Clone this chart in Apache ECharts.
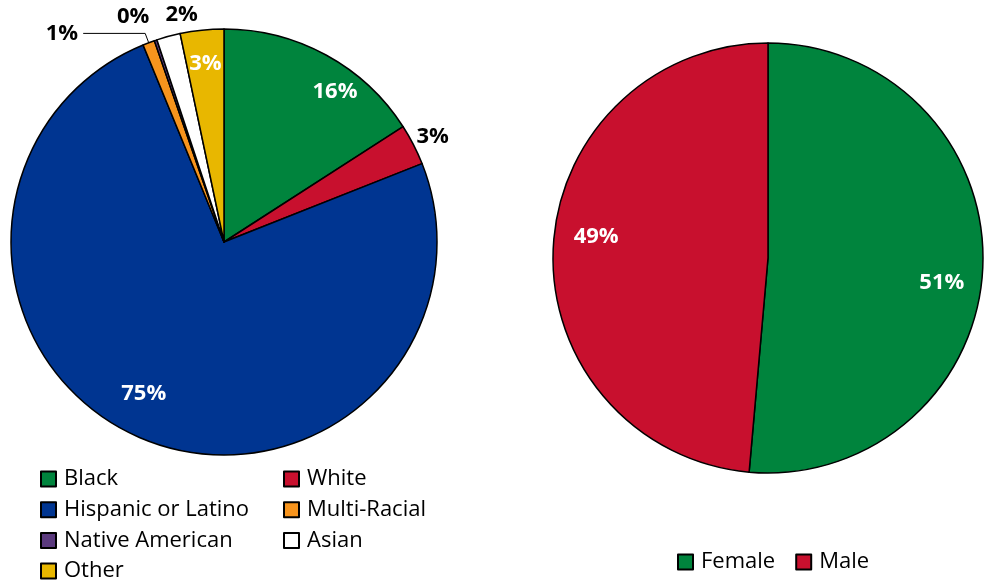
<!DOCTYPE html>
<html>
<head>
<meta charset="utf-8">
<script src="https://cdn.jsdelivr.net/npm/echarts@6/dist/echarts.min.js"></script>
<style>html,body{margin:0;padding:0;background:#fff;}#c{width:988px;height:582px;}</style>
</head>
<body>
<div id="c"></div>
<script>
// Race / ethnicity (percent)
var raceNames = ['Black', 'White', 'Hispanic or Latino', 'Multi-Racial', 'Native American', 'Asian', 'Other'];
var raceValues = [15.9, 3.1, 74.8, 0.9, 0.2, 1.8, 3.3];
var raceColors = ['#00843D', '#C8102E', '#003591', '#F7941D', '#5B3A7E', '#FFFFFF', '#E8B700'];
// which race slices carry their label inside (white) vs outside (black)
var raceInside = [true, false, true, false, false, false, true];

// Gender (percent)
var genderNames = ['Female', 'Male'];
var genderValues = [51.4, 48.6];
var genderColors = ['#00843D', '#C8102E'];

// legend columns for the race chart
var raceLegendCol1 = ['Black', 'Hispanic or Latino', 'Native American'];
var raceLegendCol2 = ['White', 'Multi-Racial', 'Asian'];
var raceLegendLast = ['Other'];

var FONT = '"Open Sans", sans-serif';

// label nudges (layout only)
var raceOutsideNudge = { 'White': [-11, -3], 'Native American': [2, -14], 'Asian': [37, -12], 'Multi-Racial': [0, 0] };
var raceInsideNudge = { 'Black': [25, 7], 'Hispanic or Latino': [-10, -13], 'Other': [0, 0] };
var genderInsideNudge = { 'Female': [-3, 17], 'Male': [5, -13] };

function pct(p) { return Math.round(p.percent) + '%'; }

var raceData = raceNames.map(function (n, i) {
  var item = {
    name: n, value: raceValues[i],
    itemStyle: { color: raceColors[i], borderColor: '#000', borderWidth: 1.5 }
  };
  if (raceInside[i]) {
    item.label = { show: false };
    item.labelLine = { show: false };
  } else {
    var withLine = n === 'Multi-Racial';
    item.label = { show: true, position: 'outside' };
    item.labelLine = { show: withLine, length: 10, length2: withLine ? 62 : 0, smooth: false, lineStyle: { color: '#000', width: 1 } };
  }
  return item;
});
var raceInsideData = raceNames.map(function (n, i) {
  return {
    name: n, value: raceValues[i],
    itemStyle: { color: 'rgba(0,0,0,0)', borderWidth: 0 },
    label: { show: raceInside[i] }
  };
});
var genderData = genderNames.map(function (n, i) {
  return { name: n, value: genderValues[i], itemStyle: { color: genderColors[i], borderColor: '#000', borderWidth: 1.5 } };
});
var genderInsideData = genderNames.map(function (n, i) {
  return { name: n, value: genderValues[i], itemStyle: { color: 'rgba(0,0,0,0)', borderWidth: 0 } };
});

function nudger(names, table) {
  return function (params) {
    var d = table[names[params.dataIndex]] || [0, 0];
    return { dx: d[0], dy: d[1], hideOverlap: false };
  };
}

var legendText = { fontFamily: FONT, fontSize: 22, color: '#000', padding: [0, 0, 0, 3] };
var legendBase = {
  icon: 'rect', itemWidth: 15, itemHeight: 15, itemGap: 8.7, orient: 'vertical', padding: 0,
  textStyle: legendText
};

var chart = echarts.init(document.getElementById('c'), null, { renderer: 'canvas' });
chart.setOption({
  animation: false,
  backgroundColor: '#fff',
  legend: [
    Object.assign({}, legendBase, { left: 40, top: 468, data: raceLegendCol1 }),
    Object.assign({}, legendBase, { left: 40, top: 560, data: raceLegendLast }),
    Object.assign({}, legendBase, { left: 283, top: 468, data: raceLegendCol2 }),
    Object.assign({}, legendBase, { orient: 'horizontal', left: 677, top: 551, itemGap: 20, data: genderNames })
  ],
  series: [
    {
      type: 'pie', center: [224, 242], radius: [0, 213], startAngle: 90, clockwise: true,
      avoidLabelOverlap: false,
      label: { formatter: pct, fontFamily: FONT, fontSize: 22, fontWeight: 'bold', color: '#000' },
      labelLayout: nudger(raceNames, raceOutsideNudge),
      emphasis: { disabled: true },
      data: raceData
    },
    {
      type: 'pie', center: [224, 242], radius: [140, 213], startAngle: 90, clockwise: true,
      silent: true, legendHoverLink: false, avoidLabelOverlap: false,
      label: { position: 'inside', formatter: pct, fontFamily: FONT, fontSize: 22, fontWeight: 'bold', color: '#fff' },
      labelLine: { show: false },
      labelLayout: nudger(raceNames, raceInsideNudge),
      emphasis: { disabled: true },
      data: raceInsideData
    },
    {
      type: 'pie', center: [768, 258], radius: [0, 215], startAngle: 90, clockwise: true,
      label: { show: false }, labelLine: { show: false },
      emphasis: { disabled: true },
      data: genderData
    },
    {
      type: 'pie', center: [768, 258], radius: [133, 215], startAngle: 90, clockwise: true,
      silent: true, legendHoverLink: false,
      label: { position: 'inside', formatter: pct, fontFamily: FONT, fontSize: 22, fontWeight: 'bold', color: '#fff' },
      labelLine: { show: false },
      labelLayout: nudger(genderNames, genderInsideNudge),
      emphasis: { disabled: true },
      data: genderInsideData
    }
  ]
});
</script>
</body>
</html>
